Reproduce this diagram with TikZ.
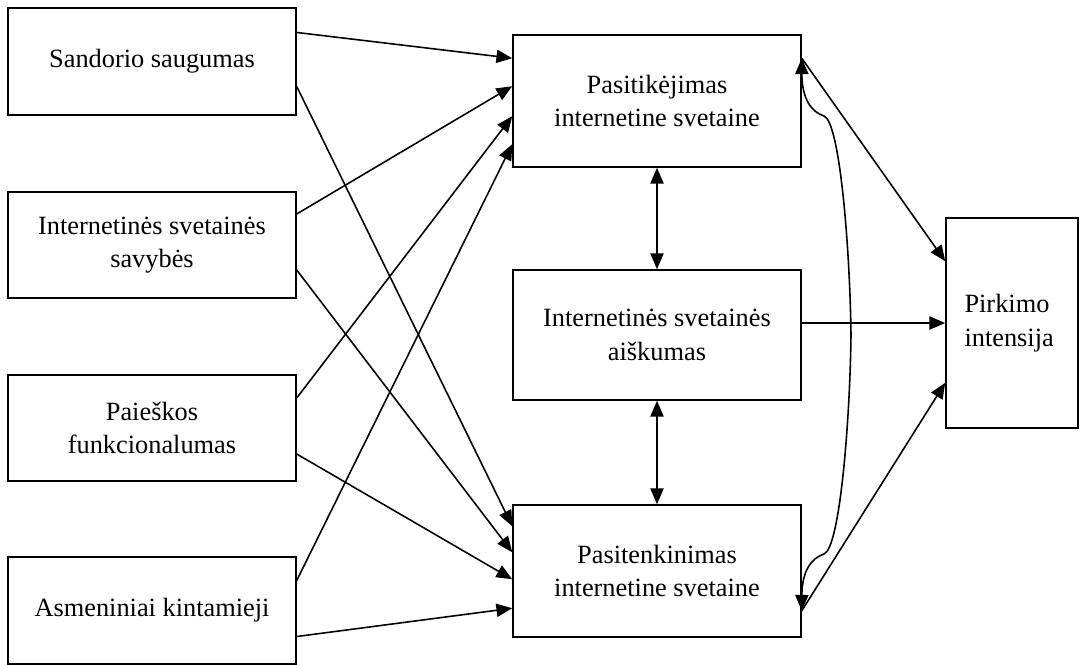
\documentclass[tikz,border=0pt]{standalone}
\usepackage{fontspec}
\setmainfont{Liberation Serif}
\usetikzlibrary{arrows.meta,calc}

\begin{document}
\begin{tikzpicture}[
    x=0.02cm, y=-0.02cm,
    box/.style={
        rectangle,
        draw=black,
        line width=0.9pt,
        align=center,
        inner sep=2pt,
        font=\fontsize{15}{19}\selectfont
    },
    inbox/.style={box, minimum width=5.76cm, minimum height=2.13cm},
    midbox/.style={box, minimum width=5.76cm, minimum height=2.64cm},
    arr/.style={line width=0.9pt, -{Triangle[length=9pt,width=7.5pt]}},
    darr/.style={line width=0.9pt, {Triangle[length=9pt,width=7.5pt]}-{Triangle[length=9pt,width=7.5pt]}}
]
\useasboundingbox (0,0) rectangle (1083,664);

% Veiksniai
\node[inbox] (s1) at (152,61.5) {Sandorio saugumas};
\node[inbox] (s2) at (152,245) {Internetinės svetainės\\savybės};
\node[inbox] (s3) at (152,428) {Paieškos\\funkcionalumas};
\node[inbox] (s4) at (152,610.5) {Asmeniniai kintamieji};

% Tarpiniai
\node[midbox] (pt) at (657,101) {Pasitikėjimas\\internetine svetaine};
\node[midbox, minimum height=2.6cm] (pm) at (657,335) {Internetinės svetainės\\aiškumas};
\node[midbox] (pb) at (657,571) {Pasitenkinimas\\internetine svetaine};

% Rezultatas
\node[box, minimum width=2.64cm, minimum height=4.2cm, text width=1.9cm,
      align=left, inner xsep=0.37cm] (r) at (1012,323) {Pirkimo\\intensija};

% Jungtys i pasitikejima
\draw[arr] ($(s1.north east)+(0,25)$) -- ($(pt.north west)+(0,24)$);
\draw[arr] ($(s2.north east)+(0,23)$) -- ($(pt.north west)+(0,52)$);
\draw[arr] ($(s3.north east)+(0,24)$) -- ($(pt.north west)+(0,82)$);
\draw[arr] ($(s4.north east)+(0,24)$) -- ($(pt.north west)+(0,110)$);

% Jungtys i pasitenkinima
\draw[arr] ($(s1.south east)+(0,-29)$) -- ($(pb.north west)+(0,22)$);
\draw[arr] ($(s2.south east)+(0,-29)$) -- ($(pb.north west)+(0,48)$);
\draw[arr] ($(s3.south east)+(0,-28)$) -- ($(pb.north west)+(0,75)$);
\draw[arr] ($(s4.south east)+(0,-28)$) -- ($(pb.north west)+(0,104)$);

% Tarpusavio rysiai
\draw[darr] (pt.south) -- (pm.north);
\draw[darr] (pm.south) -- (pb.north);

\coordinate (tT) at ($(pt.north east)+(0,24)$);
\coordinate (tB) at ($(pb.south east)+(0,-27)$);
\draw[darr] (tT) .. controls (802,100) and (812,112) .. (824,116)
    .. controls (840,122) and (850,250) .. (851,335)
    .. controls (850,420) and (840,548) .. (824,554)
    .. controls (812,558) and (802,570) .. (tB);

% I pirkimo intensija
\draw[arr] (tT) -- ($(r.north west)+(0,44)$);
\draw[arr] (pm.east |- r.west) -- (r.west);
\draw[arr] (tB) -- ($(r.south west)+(0,-46)$);

\end{tikzpicture}
\end{document}
